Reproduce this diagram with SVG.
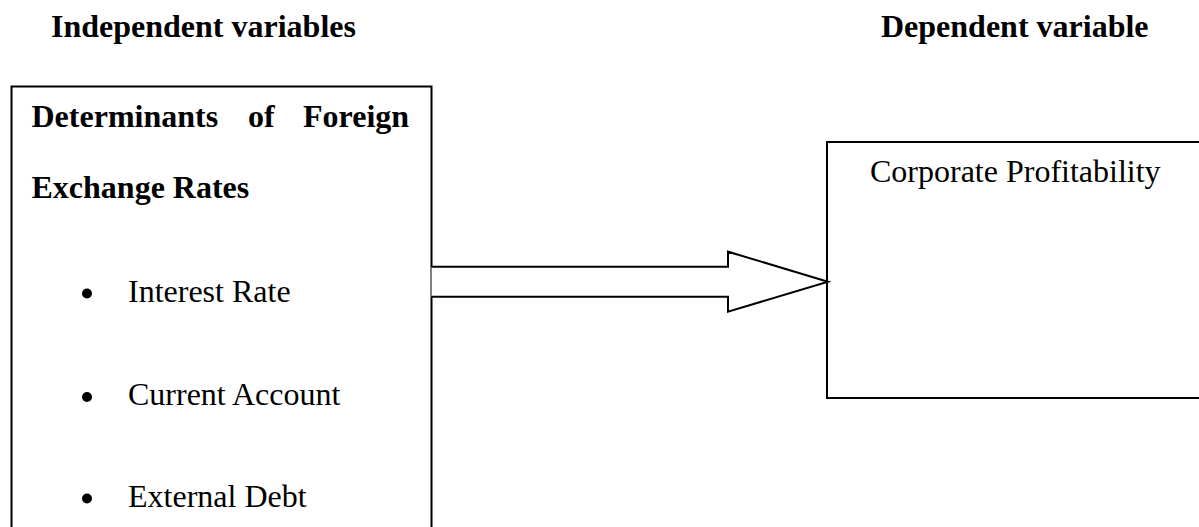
<svg xmlns="http://www.w3.org/2000/svg" width="1199" height="527" viewBox="0 0 1199 527">
<style>
.t{font-family:"Liberation Serif","Times New Roman",serif;font-size:32px;fill:#000}
.b{font-weight:bold}
.box{fill:#fff;stroke:#000;stroke-width:2}
</style>
<rect width="1199" height="527" fill="#fff"/>
<text class="t b" x="51" y="37">Independent variables</text>
<text class="t b" x="881" y="37">Dependent variable</text>
<g id="independent">
<rect class="box" x="11.5" y="86.5" width="420" height="460"/>
<text class="t b" y="127"><tspan x="31.5">Determinants</tspan><tspan x="248">of</tspan><tspan x="303">Foreign</tspan></text>
<text class="t b" x="31.5" y="198">Exchange Rates</text>
<circle cx="87" cy="293.5" r="5"/>
<text class="t" x="128" y="302">Interest Rate</text>
<circle cx="87" cy="397" r="5"/>
<text class="t" x="128" y="405">Current Account</text>
<circle cx="87" cy="498.5" r="5"/>
<text class="t" x="128" y="507">External Debt</text>
</g>
<g id="dependent">
<rect class="box" x="827" y="142" width="380" height="256"/>
<text class="t" x="870" y="182">Corporate Profitability</text>
</g>
<g id="connectors">
<path d="M431.5 266.7 H728 V251.7 L828 281.7 L728 311.7 V296.7 H431.5" fill="#fff" stroke="#000" stroke-width="2" stroke-linejoin="miter"/>
</g>
</svg>
